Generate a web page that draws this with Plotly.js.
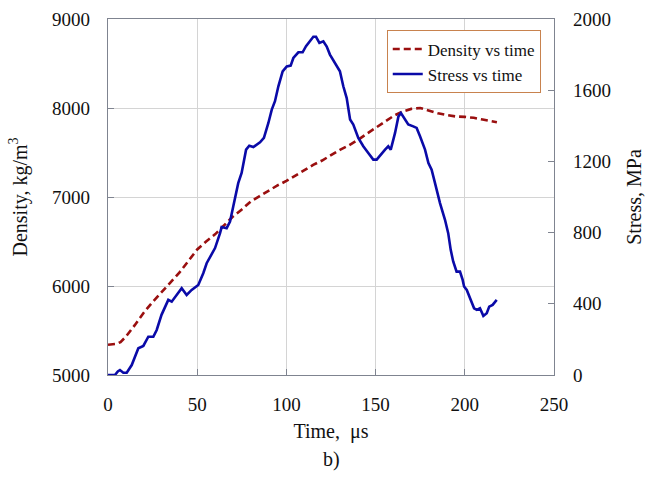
<!DOCTYPE html>
<html>
<head>
<meta charset="utf-8">
<script src="https://cdn.plot.ly/plotly-3.0.1.min.js"></script>
<style>html,body{margin:0;padding:0;background:#fff;}#chart{width:648px;height:478px;}</style>
</head>
<body>
<div id="chart"></div>
<script>
// Density vs time
const densityTime = [0, 3, 5, 7, 10, 15, 20, 25, 30, 35, 40, 45, 50, 55, 60, 65, 70, 75, 80, 85, 90, 95, 100, 105, 110, 115, 120, 125, 130, 135, 140, 145, 150, 155, 160, 165, 170, 175, 180, 185, 190, 195, 200, 205, 210, 215, 218];
const densityValues = [5340, 5342, 5350, 5370, 5430, 5560, 5700, 5820, 5930, 6040, 6150, 6280, 6410, 6500, 6580, 6680, 6780, 6860, 6950, 7010, 7070, 7130, 7180, 7240, 7300, 7360, 7410, 7470, 7530, 7580, 7640, 7710, 7780, 7850, 7910, 7960, 7990, 8000, 7970, 7940, 7920, 7905, 7900, 7890, 7870, 7850, 7840];

// Stress vs time
const stressTime = [0, 3.9, 5.5, 6.7, 8.6, 10.5, 13.3, 17.0, 19.8, 22.6, 25.4, 27.3, 30.0, 33.8, 35.7, 38.5, 41.3, 44.1, 46.9, 50.6, 53.4, 55.3, 58.1, 60.0, 62.8, 63.7, 66.5, 68.4, 70.2, 72.1, 73.0, 74.9, 77.4, 79.2, 81.5, 85.2, 87.4, 89.9, 91.8, 93.6, 95.5, 97.9, 100.2, 102.4, 103.9, 106.7, 109.1, 111.0, 113.2, 115.1, 116.6, 118.5, 120.7, 122.6, 124.4, 127.2, 130.0, 131.9, 133.8, 135.7, 137.5, 140.3, 143.1, 145.9, 148.7, 150.6, 153.4, 155.3, 157.1, 158.5, 160.9, 162.8, 164.2, 166.5, 168.3, 171.1, 173.0, 174.9, 177.7, 179.6, 181.4, 183.3, 184.6, 186.1, 188.9, 190.7, 192.1, 193.5, 195.4, 197.3, 198.8, 199.6, 201.1, 202.9, 205.2, 206.7, 208.5, 210.4, 212.3, 213.7, 215.6, 217.9];
const stressValues = [0, 0, 20, 28, 13, 13, 56, 150, 163, 215, 215, 253, 338, 422, 412, 450, 488, 450, 478, 506, 572, 628, 684, 713, 797, 831, 825, 862, 947, 1041, 1078, 1135, 1266, 1288, 1281, 1307, 1332, 1416, 1491, 1538, 1622, 1706, 1734, 1738, 1781, 1813, 1813, 1847, 1875, 1900, 1900, 1866, 1875, 1845, 1800, 1753, 1706, 1622, 1556, 1435, 1407, 1332, 1285, 1247, 1210, 1210, 1247, 1266, 1285, 1266, 1360, 1453, 1472, 1435, 1407, 1397, 1388, 1341, 1266, 1191, 1153, 1078, 1020, 966, 872, 797, 703, 638, 581, 581, 534, 497, 478, 431, 375, 366, 375, 332, 347, 384, 394, 422];

const xTicks = [0, 50, 100, 150, 200, 250];
const densityTicks = [5000, 6000, 7000, 8000, 9000];
const stressTicks = [0, 400, 800, 1200, 1600, 2000];

const serif = "'Liberation Serif', 'Times New Roman', serif";
const axisColor = '#7f8490';

const traces = [
  {
    x: densityTime, y: densityValues, name: 'Density vs time',
    type: 'scatter', mode: 'lines', yaxis: 'y',
    line: {color: '#9a0f0f', width: 2.6, dash: '7px,4px'}
  },
  {
    x: stressTime, y: stressValues, name: 'Stress vs time',
    type: 'scatter', mode: 'lines', yaxis: 'y2',
    line: {color: '#0a0aa8', width: 2.6}
  }
];

const layout = {
  width: 648, height: 478,
  margin: {l: 108, r: 94, t: 19, b: 103, pad: 0},
  paper_bgcolor: '#ffffff', plot_bgcolor: '#ffffff',
  font: {family: serif, size: 19, color: '#111'},
  showlegend: true,
  legend: {
    x: 0.625, y: 0.968, xanchor: 'left', yanchor: 'top',
    bgcolor: '#ffffff', bordercolor: '#c8824e', borderwidth: 1,
    font: {family: serif, size: 17, color: '#111'},
    traceorder: 'normal', itemwidth: 30, tracegroupgap: 6
  },
  xaxis: {
    range: [0, 250], tickvals: xTicks, ticktext: xTicks.map(String),
    ticks: 'inside', ticklen: 6, tickcolor: axisColor,
    showline: true, linecolor: axisColor, linewidth: 1.2, mirror: true,
    showgrid: true, gridcolor: '#d4d4d4', gridwidth: 1, zeroline: false,
    ticklabelstandoff: 12,
    tickfont: {family: serif, size: 19},
    title: {text: 'Time,  \u03bcs', font: {family: serif, size: 20}, standoff: 10}
  },
  yaxis: {
    range: [5000, 9000], tickvals: densityTicks, ticktext: densityTicks.map(String),
    ticks: 'inside', ticklen: 6, tickcolor: axisColor,
    showline: true, linecolor: axisColor, linewidth: 1.2, mirror: true,
    showgrid: true, gridcolor: '#d4d4d4', gridwidth: 1, zeroline: false,
    ticklabelstandoff: 13,
    tickfont: {family: serif, size: 19},
    title: {text: 'Density, kg/m<sup>3</sup>', font: {family: serif, size: 20}, standoff: 19}
  },
  yaxis2: {
    range: [0, 2000], tickvals: stressTicks, ticktext: stressTicks.map(String),
    overlaying: 'y', side: 'right',
    ticks: 'inside', ticklen: 6, tickcolor: axisColor,
    showline: false, showgrid: false, zeroline: false,
    ticklabelstandoff: 18,
    tickfont: {family: serif, size: 19},
    title: {text: 'Stress, MPa', font: {family: serif, size: 20}, standoff: 16}
  },
  annotations: [
    {text: 'b)', xref: 'paper', yref: 'paper', x: 0.5, y: -0.2, xanchor: 'center', yanchor: 'top',
     showarrow: false, font: {family: serif, size: 20, color: '#111'}}
  ]
};

Plotly.newPlot('chart', traces, layout, {staticPlot: true, displayModeBar: false});
</script>
</body>
</html>
